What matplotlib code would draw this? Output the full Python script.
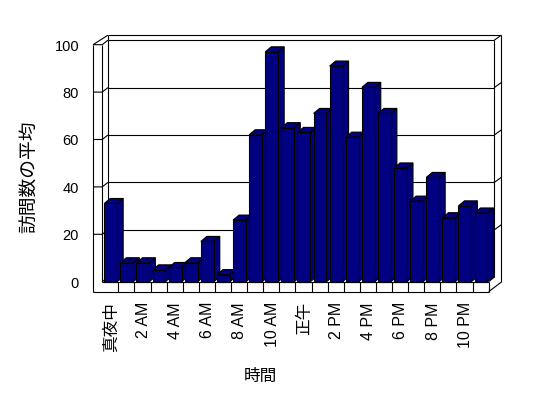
import matplotlib
matplotlib.use('Agg')
import matplotlib.pyplot as plt
from matplotlib.patches import Polygon

# ---- data ----
categories = ['真夜中', '1 AM', '2 AM', '3 AM', '4 AM', '5 AM', '6 AM', '7 AM',
              '8 AM', '9 AM', '10 AM', '11 AM', '正午', '1 PM', '2 PM', '3 PM',
              '4 PM', '5 PM', '6 PM', '7 PM', '8 PM', '9 PM', '10 PM', '11 PM']
visits = [33, 8, 8, 5, 6, 8, 17, 3, 26, 62, 97, 65, 63, 71, 91, 61, 82, 71,
          48, 34, 44, 27, 32, 29]
y_ticks = [0, 20, 40, 60, 80, 100]
x_title = '時間'
y_title = '訪問数の平均'

# ---- layout (pixel mapping) ----
W, H = 548, 398
SX, SY = 16.1, 2.37      # px per category / px per value unit
X0, Y0 = 102.2, 281.7    # pixel position of (0, 0) on the front plane


def px(x):
    return (x - X0) / SX


def pv(y):
    return (Y0 - y) / SY


DX, DY = 5.7 / SX, 4.5 / SY      # floor depth
TX, TY = 6.9 / SX, 5.0 / SY      # back wall thickness
LW = 9.2 / SX                     # left wall thickness
FT = 10.0 / SY                    # floor thickness
BDX, BDY = 6.0 / SX, 5.0 / SY     # bar depth
BAR_OFF, BAR_W = 0.13, 0.80
NAVY = '#000080'
LWID = 0.8

fig = plt.figure(figsize=(W / 100, H / 100), dpi=100)
fig.patch.set_facecolor('white')
ax = fig.add_axes([0, 0, 1, 1])
ax.set_xlim(px(0), px(W))
ax.set_ylim(pv(H), pv(0))
ax.axis('off')

n = len(categories)
ymax = y_ticks[-1]


def line(xs, ys, z=1):
    ax.plot(xs, ys, color='black', lw=LWID, solid_capstyle='butt', zorder=z)


# back wall inner face
line([DX, DX], [DY, ymax + DY])
line([DX, n + DX], [ymax + DY, ymax + DY])
line([n + DX, n + DX], [DY, ymax + DY])
for v in y_ticks[:-1]:
    line([DX, n + DX], [v + DY, v + DY])
# left wall ticks / gridline continuations
for v in y_ticks:
    if v == 0:
        line([0, DX], [v, v + DY])
    else:
        line([-LW, 0, DX], [v, v, v + DY])
# left wall vertical lines
line([0, 0], [0, ymax])
line([-LW, -LW], [-FT, ymax])
# top slab edges
line([-LW, DX], [ymax, ymax + DY + TY])
line([DX, DX], [ymax + DY, ymax + DY + TY])
line([DX, n + DX + TX], [ymax + DY + TY, ymax + DY + TY])
line([n + DX, n + DX + TX], [ymax + DY, ymax + DY + TY])
# right slab edges
line([n + DX + TX, n + DX + TX], [-FT + DY + TY, ymax + DY + TY])
for v in y_ticks[1:-1]:
    line([n + DX, n + DX + TX], [v + DY, v + DY + TY])
line([n, n + DX + TX], [-FT, -FT + DY + TY])
line([n, n + DX], [0, DY])
# floor front face
line([-LW, n], [-FT, -FT])
line([0, n], [0, 0])
line([n, n], [-FT, 0])
for k in range(1, n):
    line([k, k], [-FT, 0])

# bars
for i, v in enumerate(visits):
    x0 = i + BAR_OFF
    x1 = x0 + BAR_W
    side = Polygon([(x1, 0), (x1 + BDX, BDY), (x1 + BDX, v + BDY), (x1, v)],
                   closed=True, facecolor=NAVY, edgecolor='black', lw=LWID, zorder=3)
    top = Polygon([(x0, v), (x1, v), (x1 + BDX, v + BDY), (x0 + BDX, v + BDY)],
                  closed=True, facecolor=NAVY, edgecolor='black', lw=LWID, zorder=3)
    ax.add_patch(side)
    ax.add_patch(top)
ax.bar([i + BAR_OFF for i in range(n)], visits, width=BAR_W, align='edge',
       color=NAVY, edgecolor='black', linewidth=LWID, zorder=4)

FAM = ['Liberation Sans', 'Noto Sans CJK JP', 'DejaVu Sans']
CJK = ['Noto Sans CJK JP', 'DejaVu Sans']

for t in y_ticks:
    ax.text(px(79), t - 0.8, str(t), ha='right', va='center', fontsize=10.5,
            family=FAM)

for i in range(0, n, 2):
    lab = categories[i]
    is_cjk = not any(c.isascii() for c in lab)
    ax.text(i + 0.55, pv(302), lab, rotation=90, ha='center', va='top',
            fontsize=12 if is_cjk else 11.5, family=CJK if is_cjk else FAM)

ax.text(px(260), pv(376), x_title, ha='center', va='center', fontsize=12,
        family=CJK)
ax.text(px(30), pv(177), y_title, rotation=90, ha='center', va='center',
        fontsize=13.5, family=CJK)

fig.savefig('out.png', dpi=100, facecolor='white')
